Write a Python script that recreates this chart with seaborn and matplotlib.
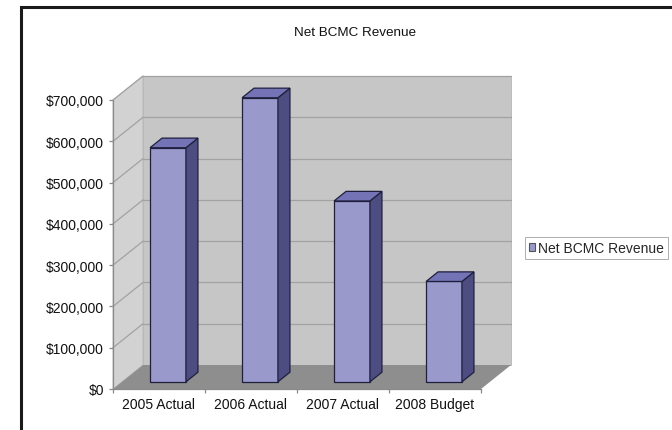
import matplotlib
matplotlib.use("Agg")
import matplotlib.pyplot as plt
import seaborn as sns
from matplotlib.patches import Polygon, Rectangle, Patch
from matplotlib.ticker import FuncFormatter, FixedLocator

categories = ["2005 Actual", "2006 Actual", "2007 Actual", "2008 Budget"]
revenue = [567000, 688000, 438000, 243000]
y_ticks = [0, 100000, 200000, 300000, 400000, 500000, 600000, 700000]
series_name = "Net BCMC Revenue"
title = "Net BCMC Revenue"

FRONT = "#9999cc"
SIDE = "#4d4d82"
TOP = "#7373b5"
EDGE = "#1f1f3d"
BACK_WALL = "#c6c6c6"
LEFT_WALL = "#d2d2d2"
FLOOR = "#8e8e8e"
GRID = "#a2a2a2"

sns.set_theme(style="white")
plt.rcParams["font.family"] = ["Liberation Sans", "DejaVu Sans"]

W, H = 672, 431
fig = plt.figure(figsize=(W / 100, H / 100), dpi=100)
fig.patch.set_facecolor("white")

ax_l, ax_r, ax_b, ax_t = 113, 481, 390, 101
ax = fig.add_axes([ax_l / W, (H - ax_b) / H, (ax_r - ax_l) / W, (ax_b - ax_t) / H])

sns.barplot(x=categories, y=revenue, color=FRONT, width=0.39, edgecolor=EDGE,
            linewidth=0.9, saturation=1, ax=ax, zorder=5)
bars = list(ax.patches)

ax.set_xlim(-0.5, len(categories) - 0.5)
ymax = y_ticks[-1]
ax.set_ylim(0, ymax)
ax.patch.set_visible(False)

# depth vector (full depth) in data units
ux = len(categories) / (ax_r - ax_l)
uy = ymax / (ax_b - ax_t)
Dx, Dy = 30 * ux, 24 * uy
xmin, xmax = -0.5, len(categories) - 0.5

# walls and floor
ax.add_patch(Rectangle((xmin + Dx, Dy), xmax - xmin, ymax, facecolor=BACK_WALL,
                       edgecolor="#b5b5b5", lw=0.6, clip_on=False, zorder=0))
ax.add_patch(Polygon([(xmin, 0), (xmin + Dx, Dy), (xmin + Dx, ymax + Dy), (xmin, ymax)],
                     closed=True, facecolor=LEFT_WALL, edgecolor="#b5b5b5", lw=0.6,
                     clip_on=False, zorder=0))
for v in y_ticks[1:]:
    ax.plot([xmin + Dx, xmax + Dx], [v + Dy, v + Dy], color=GRID, lw=0.9,
            clip_on=False, zorder=1)
    ax.plot([xmin, xmin + Dx], [v, v + Dy], color=GRID, lw=0.9, clip_on=False, zorder=1)
ax.add_patch(Polygon([(xmin, 0), (xmax, 0), (xmax + Dx, Dy), (xmin + Dx, Dy)],
                     closed=True, facecolor=FLOOR, edgecolor="none", clip_on=False, zorder=2))

# bars: shift front faces into depth, add side and top faces
d0, d1 = 0.3, 0.4
for p in bars:
    p.set_x(p.get_x() + d0 * Dx)
    p.set_y(d0 * Dy)
    p.set_clip_on(False)
    x0 = p.get_x()
    x1 = x0 + p.get_width()
    y0 = p.get_y()
    y1 = y0 + p.get_height()
    ax.add_patch(Polygon([(x1, y0), (x1 + d1 * Dx, y0 + d1 * Dy),
                          (x1 + d1 * Dx, y1 + d1 * Dy), (x1, y1)],
                         closed=True, facecolor=SIDE, edgecolor=EDGE, lw=0.9,
                         clip_on=False, zorder=5))
    ax.add_patch(Polygon([(x0, y1), (x1, y1), (x1 + d1 * Dx, y1 + d1 * Dy),
                          (x0 + d1 * Dx, y1 + d1 * Dy)],
                         closed=True, facecolor=TOP, edgecolor=EDGE, lw=0.9,
                         clip_on=False, zorder=5))

# axes styling
for s in ["top", "right"]:
    ax.spines[s].set_visible(False)
for s in ["left", "bottom"]:
    ax.spines[s].set_color("#8a8a8a")
    ax.spines[s].set_linewidth(0.9)
    ax.spines[s].set_zorder(3)

ax.set_yticks(y_ticks)
ax.yaxis.set_major_formatter(FuncFormatter(lambda v, _: f"${v:,.0f}"))
ax.tick_params(axis="y", which="major", left=True, length=3, width=0.9,
               color="#8a8a8a", labelsize=10, pad=3.5, labelcolor="#111111")
ax.xaxis.set_minor_locator(FixedLocator([i - 0.5 for i in range(len(categories) + 1)]))
ax.tick_params(axis="x", which="major", bottom=False, length=0, labelsize=10,
               pad=6, labelcolor="#111111")
ax.tick_params(axis="x", which="minor", bottom=True, length=3, width=0.9,
               color="#8a8a8a")
ax.set_xlabel("")
ax.set_ylabel("")

fig.text(355 / W, (H - 33) / H, title, ha="center", va="center", fontsize=9.7,
         color="#111111")

leg = fig.legend(handles=[Patch(facecolor=FRONT, edgecolor="#555555", lw=0.8)],
                 labels=[series_name], loc="center left",
                 bbox_to_anchor=(525 / W, (H - 249) / H), frameon=True,
                 fancybox=False, edgecolor="#9a9a9a", fontsize=10,
                 handlelength=0.45, handleheight=0.45, handletextpad=0.2,
                 borderpad=0.3, borderaxespad=0)
leg.get_frame().set_linewidth(0.7)

# outer frame
fig.patches.append(Rectangle((20.5 / W, -0.1), 2, (H - 7.5) / H + 0.1,
                             transform=fig.transFigure, fill=False,
                             edgecolor="#1a1a1a", lw=2.2, zorder=10))

fig.savefig("out.png", dpi=100)
